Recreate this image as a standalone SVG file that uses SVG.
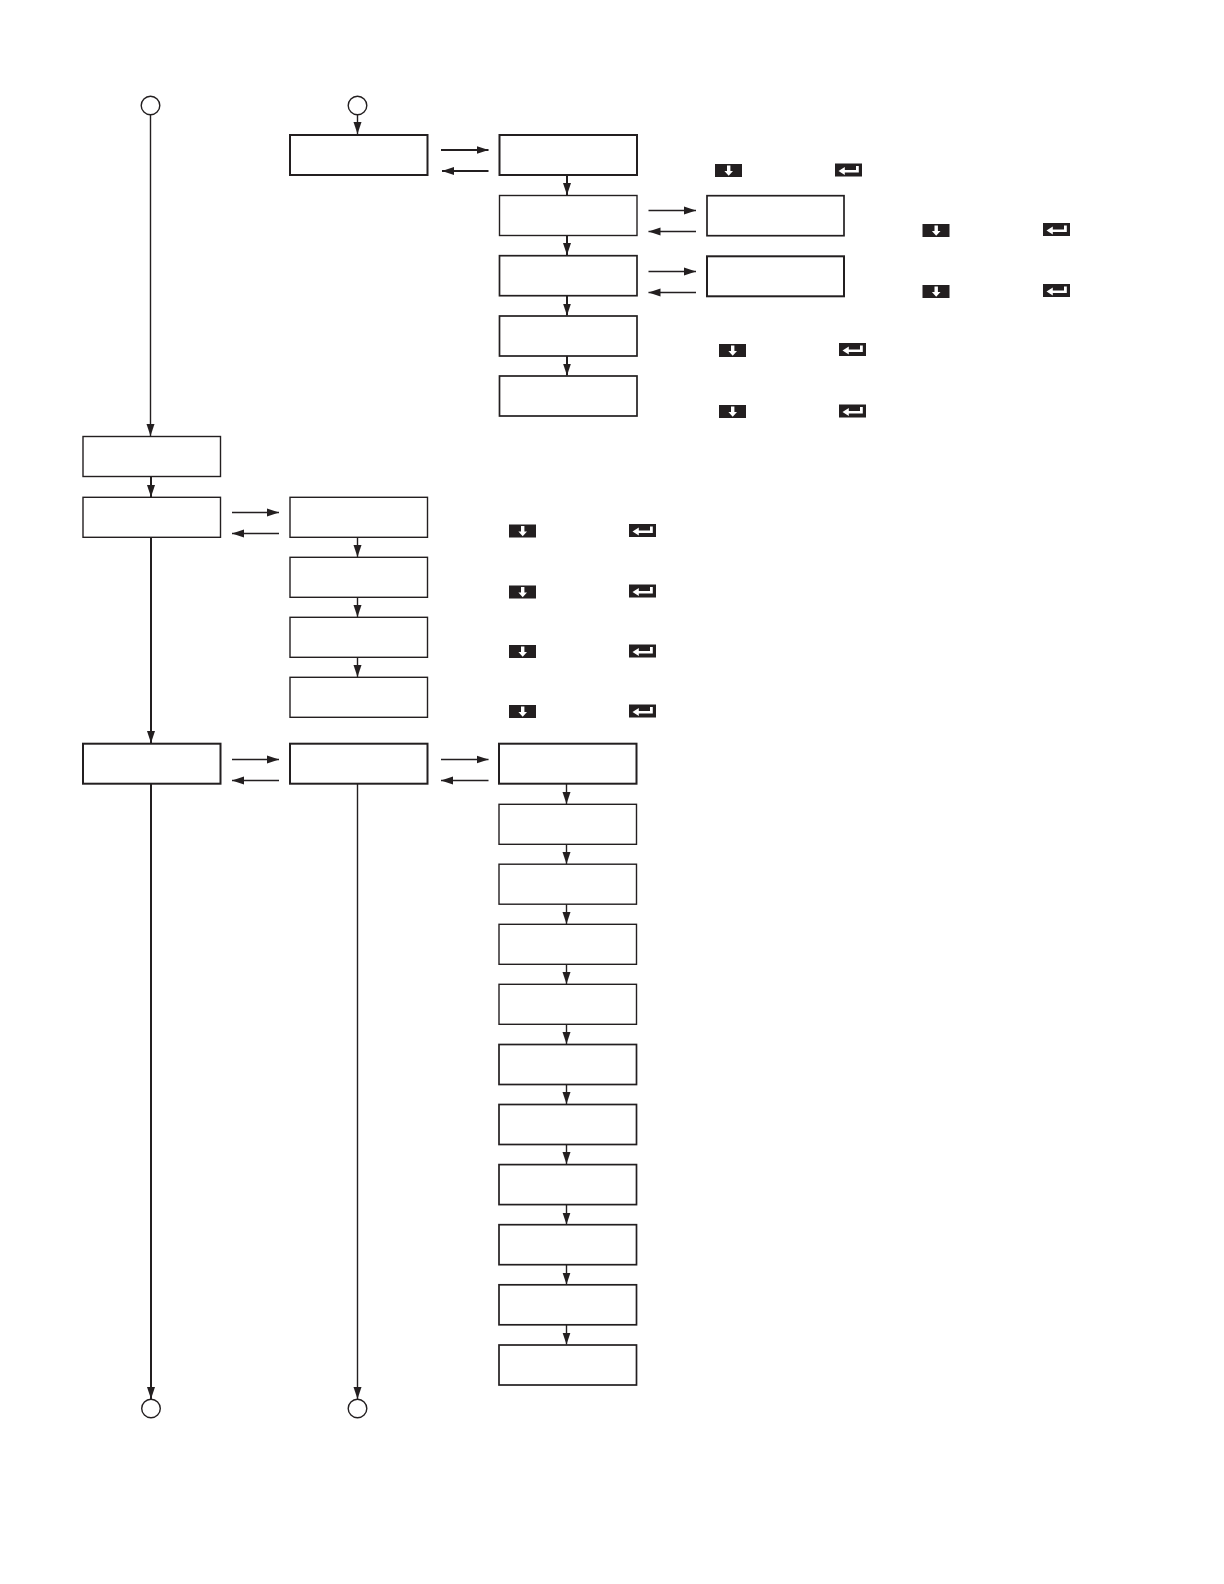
<svg xmlns="http://www.w3.org/2000/svg" width="1224" height="1584" viewBox="0 0 1224 1584">
<style>
.b{fill:#fff;stroke:#231f20;stroke-width:1.4}
.m{fill:#fff;stroke:#231f20;stroke-width:1.7}
.t{fill:#fff;stroke:#231f20;stroke-width:2}
.c{fill:#fff;stroke:#231f20;stroke-width:1.4}
#connectors line{stroke:#231f20;stroke-width:1.4;fill:none;marker-end:url(#a)}
#connectors line.h{stroke-width:2}
.k{fill:#231f20}
.w{fill:#fff}
</style>
<defs>
<marker id="a" markerUnits="userSpaceOnUse" markerWidth="13" markerHeight="10" refX="12" refY="5" orient="auto"><path d="M0 1L12 5L0 9z" fill="#231f20"/></marker>
<g id="down"><rect class="k" width="27" height="13"/><path class="w" d="M12 1.5h3.4v5.5h2.6L13.7 11.8L9.4 7h2.6z"/></g>
<g id="enter"><rect class="k" width="27" height="13"/><path class="w" d="M21 2.5h2.8v6.6h-14v2.4L3.5 7.6L9.8 3.6v2.8H21z"/></g>
</defs>
<rect width="1224" height="1584" fill="#fff"/>
<g id="connectors">
<line x1="150.5" y1="114.5" x2="150.5" y2="436"/>
<line x1="357.5" y1="114.5" x2="357.5" y2="134"/>
<line class="h" x1="151" y1="476.5" x2="151" y2="497"/>
<line class="h" x1="151" y1="537" x2="151" y2="743"/>
<line class="h" x1="151" y1="784" x2="151" y2="1399"/>
<line x1="357.5" y1="784" x2="357.5" y2="1399"/>
<line class="h" x1="441" y1="150" x2="488.5" y2="150"/>
<line class="h" x1="488.5" y1="171" x2="442" y2="171"/>
<line x1="648.5" y1="210.5" x2="696" y2="210.5"/>
<line x1="696" y1="231.5" x2="648.5" y2="231.5"/>
<line x1="648.5" y1="271.5" x2="696" y2="271.5"/>
<line x1="696" y1="292.5" x2="648.5" y2="292.5"/>
<line class="h" x1="567" y1="175" x2="567" y2="195"/>
<line class="h" x1="567" y1="235" x2="567" y2="255"/>
<line class="h" x1="567" y1="295" x2="567" y2="315.5"/>
<line class="h" x1="567" y1="355.5" x2="567" y2="375.5"/>
<line x1="232" y1="512.5" x2="279" y2="512.5"/>
<line x1="279" y1="533.5" x2="232" y2="533.5"/>
<line x1="357.5" y1="537.5" x2="357.5" y2="557"/>
<line x1="357.5" y1="597.5" x2="357.5" y2="617"/>
<line x1="357.5" y1="657.5" x2="357.5" y2="677"/>
<line x1="232" y1="759.5" x2="279" y2="759.5"/>
<line x1="279" y1="780.5" x2="232" y2="780.5"/>
<line x1="441" y1="759.5" x2="488.5" y2="759.5"/>
<line x1="488.5" y1="780.5" x2="441" y2="780.5"/>
<line x1="566.5" y1="784" x2="566.5" y2="804"/>
<line x1="566.5" y1="844" x2="566.5" y2="864"/>
<line x1="566.5" y1="904" x2="566.5" y2="924"/>
<line x1="566.5" y1="964" x2="566.5" y2="984"/>
<line x1="566.5" y1="1024" x2="566.5" y2="1044"/>
<line x1="566.5" y1="1084.5" x2="566.5" y2="1104"/>
<line x1="566.5" y1="1144.5" x2="566.5" y2="1164"/>
<line x1="566.5" y1="1204.5" x2="566.5" y2="1224.5"/>
<line x1="566.5" y1="1265" x2="566.5" y2="1284.5"/>
<line x1="566.5" y1="1325" x2="566.5" y2="1344.5"/>
</g>
<g id="circle-top-left"><circle class="c" cx="150.5" cy="105.5" r="9.3"/></g>
<g id="circle-top-right"><circle class="c" cx="357.5" cy="105.5" r="9.3"/></g>
<g id="circle-bottom-left"><circle class="c" cx="151" cy="1408.5" r="9.3"/></g>
<g id="circle-bottom-right"><circle class="c" cx="357.5" cy="1408.5" r="9.3"/></g>
<g id="n1"><rect class="t" x="290" y="135" width="137.5" height="40"/></g>
<g id="n2"><rect class="t" x="499.5" y="135" width="137.5" height="40"/></g>
<g id="n3"><rect class="b" x="499.5" y="195.5" width="137.5" height="40"/></g>
<g id="n4"><rect class="m" x="499.5" y="255.7" width="137.5" height="40"/></g>
<g id="n5"><rect class="m" x="499.5" y="316" width="137.5" height="40"/></g>
<g id="n6"><rect class="m" x="499.5" y="376" width="137.5" height="40"/></g>
<g id="n7"><rect class="m" x="707" y="195.7" width="137" height="40"/></g>
<g id="n8"><rect class="t" x="707" y="256.3" width="137" height="40"/></g>
<g id="n9"><rect class="b" x="83" y="436.5" width="137.5" height="40"/></g>
<g id="n10"><rect class="b" x="83" y="497.3" width="137.5" height="40"/></g>
<g id="n11"><rect class="b" x="290" y="497.3" width="137.5" height="40"/></g>
<g id="n12"><rect class="b" x="290" y="557.3" width="137.5" height="40"/></g>
<g id="n13"><rect class="b" x="290" y="617.3" width="137.5" height="40"/></g>
<g id="n14"><rect class="b" x="290" y="677.3" width="137.5" height="40"/></g>
<g id="n15"><rect class="t" x="83" y="743.7" width="137.5" height="40"/></g>
<g id="n16"><rect class="t" x="290" y="743.7" width="137.5" height="40"/></g>
<g id="n17"><rect class="t" x="499" y="743.7" width="137.5" height="40"/></g>
<g id="n18"><rect class="b" x="499" y="804.3" width="137.5" height="40"/></g>
<g id="n19"><rect class="b" x="499" y="864.2" width="137.5" height="40"/></g>
<g id="n20"><rect class="b" x="499" y="924.3" width="137.5" height="40"/></g>
<g id="n21"><rect class="b" x="499" y="984.3" width="137.5" height="40"/></g>
<g id="n22"><rect class="m" x="499" y="1044.5" width="137.5" height="40"/></g>
<g id="n23"><rect class="m" x="499" y="1104.5" width="137.5" height="40"/></g>
<g id="n24"><rect class="m" x="499" y="1164.6" width="137.5" height="40"/></g>
<g id="n25"><rect class="m" x="499" y="1224.7" width="137.5" height="40"/></g>
<g id="n26"><rect class="m" x="499" y="1284.8" width="137.5" height="40"/></g>
<g id="n27"><rect class="m" x="499" y="1345" width="137.5" height="40"/></g>
<g id="keys">
<use href="#down" x="715" y="164"/><use href="#enter" x="835" y="163.5"/>
<use href="#down" x="922.5" y="224"/><use href="#enter" x="1043" y="223"/>
<use href="#down" x="922.5" y="285"/><use href="#enter" x="1043" y="284"/>
<use href="#down" x="719" y="344"/><use href="#enter" x="839" y="343"/>
<use href="#down" x="719" y="405"/><use href="#enter" x="839" y="404.5"/>
<use href="#down" x="509" y="524.5"/><use href="#enter" x="629" y="524"/>
<use href="#down" x="509" y="585.5"/><use href="#enter" x="629" y="584.5"/>
<use href="#down" x="509" y="645"/><use href="#enter" x="629" y="644.5"/>
<use href="#down" x="509" y="705"/><use href="#enter" x="629" y="704.5"/>
</g>
</svg>
